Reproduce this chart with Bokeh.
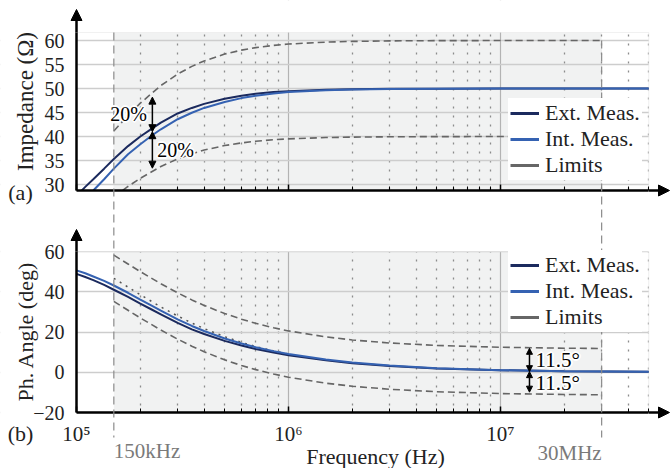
import math
from bokeh.plotting import figure
from bokeh.models import (Range1d, FixedTicker, BoxAnnotation, Arrow, NormalHead,
                          Label, Legend, LegendItem, LinearAxis, LogAxis, LogScale, Grid)
from bokeh.embed import file_html
from bokeh.resources import INLINE

# ---------------- data ----------------
freq = [1.0e5, 1.1e5, 1.2e5, 1.35e5, 1.5e5, 1.75e5, 2.0e5, 2.25e5, 2.5e5, 3.0e5,
        3.5e5, 4.0e5, 5.0e5, 6.0e5, 7.0e5, 8.5e5, 1.0e6, 1.5e6, 2.0e6, 3.0e6,
        5.0e6, 1.0e7, 2.0e7, 5.0e7]
z_ext = [27.6, 29.5, 31.1, 33.3, 35.3, 38.0, 40.0, 41.55, 42.9, 44.8,
         45.95, 46.8, 47.85, 48.5, 48.9, 49.25, 49.45, 49.74, 49.85, 49.93,
         49.97, 49.99, 50.0, 50.0]
z_int = [25.3, 27.1, 28.75, 31.1, 33.3, 36.3, 38.4, 40.1, 41.5, 43.6,
         44.95, 45.95, 47.2, 48.0, 48.5, 48.95, 49.25, 49.66, 49.8, 49.91,
         49.97, 49.99, 50.0, 50.0]
ph_ext = [48.9, 47.3, 45.8, 43.4, 41.0, 37.4, 34.1, 31.3, 28.8, 24.5,
          21.3, 19.0, 15.6, 13.3, 11.6, 9.8, 8.5, 5.9, 4.5, 3.1,
          1.9, 1.0, 0.5, 0.23]
ph_int = [50.6, 49.2, 47.6, 45.4, 43.1, 39.5, 36.1, 33.2, 30.6, 26.3,
          23.0, 20.5, 16.8, 14.3, 12.4, 10.5, 9.1, 6.3, 4.8, 3.3,
          2.0, 1.05, 0.55, 0.25]

lim_freq = [1.5e5, 1.75e5, 2e5, 2.5e5, 3e5, 3.5e5, 4e5, 5e5, 6e5, 7e5, 8.5e5,
            1e6, 1.5e6, 2e6, 3e6, 5e6, 1e7, 2e7, 3e7]
z_upper = [41.15, 44.39, 46.94, 50.62, 53.0, 54.61, 55.75, 57.17, 58.0, 58.51,
           58.98, 59.26, 59.66, 59.81, 59.92, 59.97, 59.99, 60.0, 60.0]
z_lower = [27.43, 29.59, 31.30, 33.74, 35.34, 36.41, 37.17, 38.11, 38.67, 39.01,
           39.32, 39.50, 39.78, 39.87, 39.94, 39.98, 39.99, 40.0, 40.0]
ph_upper = [58.2, 53.79, 50.0, 43.98, 39.45, 35.95, 33.2, 29.16, 26.36, 24.31,
            22.11, 20.54, 17.56, 16.05, 14.54, 13.32, 12.41, 11.96, 11.8]
ph_lower = [35.2, 30.79, 27.0, 20.98, 16.45, 12.95, 10.2, 6.16, 3.36, 1.31,
            -0.89, -2.46, -5.44, -6.95, -8.46, -9.68, -10.59, -11.04, -11.2]
nom_freq = [1.5e5, 1.75e5, 2e5, 2.5e5, 3e5, 3.5e5, 4e5, 5e5, 6e5, 7e5, 8.5e5, 1e6]
ph_nominal = [46.7, 42.29, 38.5, 32.48, 27.95, 24.45, 21.7, 17.66, 14.86, 12.81,
              10.61, 9.04]

F_LOW, F_HIGH = 1.5e5, 3.0e7
x_major = [1e5, 1e6, 1e7]
x_minor = [2e5, 3e5, 4e5, 5e5, 6e5, 7e5, 8e5, 9e5,
           2e6, 3e6, 4e6, 5e6, 6e6, 7e6, 8e6, 9e6,
           2e7, 3e7, 4e7, 5e7]
x_labels = {1e5: "10\u2075", 1e6: "10\u2076", 1e7: "10\u2077"}
x_blank = {1e5: " ", 1e6: " ", 1e7: " "}
z_ticks = [30, 35, 40, 45, 50, 55, 60]
ph_ticks = [-20, 0, 20, 40, 60]

# annotation data
z_arrow_f, z_arrow_vals = 2.28e5, [48.2, 41.0, 33.4]
ph_arrow_f, ph_arrow_vals = 1.37e7, [11.9, 0.3, -9.9]

# ---------------- layout (pixels of the 670x468 canvas) ----------------
W, H = 670, 468
X0PX, DEC = 76.0, 212.0           # x pixel of 1e5, pixels per decade
Z60PX, ZPX = 40.0, 4.8            # y pixel of 60 Ohm, pixels per Ohm
PH60PX, PHPX = 251.0, 161.0 / 80  # y pixel of 60 deg, pixels per degree


def f_at(px):
    return 1e5 * 10 ** ((px - X0PX) / DEC)


def z_at(py):
    return 60 + (Z60PX - py) / ZPX


def ph_at(py):
    return 60 + (PH60PX - py) / PHPX


X_PANEL = (1e5, 5e7)
Z_PANEL = (z_at(190), z_at(32))
PH_PANEL = (-20, 60)

FONT = "Liberation Serif"
C_TXT = "#222222"
C_EXT = "#1b2a5e"
C_INT = "#3562b2"
C_LIM = "#666666"
C_BAND = "#d5d6d8"
C_REGION = "#f1f2f2"

p = figure(width=W, height=H, x_axis_type=None, y_axis_type=None,
           x_range=Range1d(f_at(0), f_at(W)), y_range=Range1d(ph_at(H), ph_at(0)),
           output_backend="svg", toolbar_location=None,
           min_border=0, min_border_left=0, min_border_right=0,
           min_border_top=0, min_border_bottom=0)
p.x_scale = LogScale()
p.extra_y_ranges = {"z": Range1d(z_at(H), z_at(0))}
p.outline_line_color = None
p.background_fill_color = "white"
p.border_fill_color = "white"

# ---- light region between 150 kHz and 30 MHz (both panels) ----
p.add_layout(BoxAnnotation(left=F_LOW, right=F_HIGH, bottom=Z_PANEL[0], top=Z_PANEL[1],
                           y_range_name="z", fill_color=C_REGION, fill_alpha=1,
                           line_alpha=0, level="image"))
p.add_layout(BoxAnnotation(left=F_LOW, right=F_HIGH, bottom=PH_PANEL[0], top=PH_PANEL[1],
                           fill_color=C_REGION, fill_alpha=1, line_alpha=0, level="image"))

# ---- limit bands ----
p.varea(x=lim_freq, y1=z_lower, y2=z_upper, fill_color=C_BAND, level="image",
        y_range_name="z")
p.varea(x=lim_freq, y1=ph_lower, y2=ph_upper, fill_color=C_BAND, level="image")

# ---- grids ----
xt = FixedTicker(ticks=[1e6, 1e7], minor_ticks=x_minor)
vg = Grid(dimension=0, ticker=xt, grid_line_color="#b3b3b3", grid_line_width=1.2,
          minor_grid_line_color="#8c8c8c", minor_grid_line_dash="2 7",
          minor_grid_line_width=1.3)
hz = Grid(dimension=1, ticker=FixedTicker(ticks=z_ticks), y_range_name="z",
          grid_line_color="#cdcdcd", grid_line_width=1.3)
hp = Grid(dimension=1, ticker=FixedTicker(ticks=ph_ticks),
          grid_line_color="#cdcdcd", grid_line_width=1.3)
for g in (vg, hz, hp):
    p.add_layout(g)

# ---- white masks outside the two panels ----
mask = dict(fill_color="white", fill_alpha=1, line_alpha=0, level="underlay")
p.add_layout(BoxAnnotation(right=X_PANEL[0], **mask))
p.add_layout(BoxAnnotation(left=X_PANEL[1], **mask))
p.add_layout(BoxAnnotation(bottom=Z_PANEL[1], y_range_name="z", **mask))
p.add_layout(BoxAnnotation(top=ph_at(190), bottom=PH_PANEL[1], **mask))
p.add_layout(BoxAnnotation(top=PH_PANEL[0], **mask))
# panel outlines
for kw in (dict(bottom=Z_PANEL[0], top=Z_PANEL[1], y_range_name="z"),
           dict(bottom=PH_PANEL[0], top=PH_PANEL[1])):
    p.add_layout(BoxAnnotation(left=X_PANEL[0], right=X_PANEL[1], fill_alpha=0,
                               line_color="#cfcfcf", line_width=1.2, level="underlay", **kw))

# ---- top panel glyphs ----
p.line(lim_freq, z_upper, line_color=C_LIM, line_width=1.6, line_dash="7 4", y_range_name="z")
p.line(lim_freq, z_lower, line_color=C_LIM, line_width=1.6, line_dash="7 4", y_range_name="z")
p.line(freq, z_ext, line_color=C_EXT, line_width=2, y_range_name="z")
p.line(freq, z_int, line_color=C_INT, line_width=2, y_range_name="z")
# clip what falls below the impedance axis
p.quad(left=[f_at(0)], right=[f_at(W)], top=[Z_PANEL[0]], bottom=[z_at(250)],
       y_range_name="z", fill_color="white", line_alpha=0)

# ---- bottom panel glyphs ----
p.line(lim_freq, ph_upper, line_color=C_LIM, line_width=1.6, line_dash="7 4")
p.line(lim_freq, ph_lower, line_color=C_LIM, line_width=1.6, line_dash="7 4")
p.line(nom_freq, ph_nominal, line_color="#555555", line_width=1.5, line_dash="2 5")
p.line(freq, ph_ext, line_color=C_EXT, line_width=2)
p.line(freq, ph_int, line_color=C_INT, line_width=2)


# ---- axes (fixed inside the canvas) ----
def y_axis(ticks, rng_name, bounds):
    kw = dict(y_range_name=rng_name) if rng_name else {}
    ax = LinearAxis(fixed_location=X_PANEL[0], bounds=bounds,
                    ticker=FixedTicker(ticks=ticks), **kw)
    ax.axis_line_width = 2.5
    ax.axis_line_color = "black"
    ax.major_tick_line_color = None
    ax.minor_tick_line_color = None
    ax.major_label_text_font = FONT
    ax.major_label_text_font_size = "20px"
    ax.major_label_text_color = C_TXT
    ax.major_label_standoff = 6
    p.add_layout(ax, "left")


def x_axis(rng_name, loc, labels):
    kw = dict(y_range_name=rng_name) if rng_name else {}
    ax = LogAxis(fixed_location=loc, bounds=X_PANEL,
                 ticker=FixedTicker(ticks=x_major, minor_ticks=x_minor), **kw)
    ax.axis_line_width = 2.5
    ax.axis_line_color = "black"
    ax.major_tick_in = 6
    ax.major_tick_out = 0
    ax.minor_tick_in = 4
    ax.minor_tick_out = 0
    ax.major_tick_line_color = "black"
    ax.minor_tick_line_color = "black"
    ax.major_tick_line_width = 1.5
    ax.major_label_text_font = FONT
    ax.major_label_text_font_size = "21px"
    ax.major_label_text_color = C_TXT
    ax.major_label_overrides = labels
    ax.major_label_standoff = 9
    p.add_layout(ax, "below")


y_axis(z_ticks, "z", Z_PANEL)
y_axis(ph_ticks, None, PH_PANEL)
x_axis("z", Z_PANEL[0], x_blank)
x_axis(None, PH_PANEL[0], x_labels)

# axis arrows
head = dict(size=11, fill_color="black", line_color="black")
p.add_layout(Arrow(end=NormalHead(**head), x_start=X_PANEL[0], y_start=Z_PANEL[1],
                   x_end=X_PANEL[0], y_end=z_at(9), y_range_name="z",
                   line_width=2.5, line_color="black"))
p.add_layout(Arrow(end=NormalHead(**head), x_start=X_PANEL[1], y_start=Z_PANEL[0],
                   x_end=f_at(669), y_end=Z_PANEL[0], y_range_name="z",
                   line_width=2.5, line_color="black"))
p.add_layout(Arrow(end=NormalHead(**head), x_start=X_PANEL[0], y_start=PH_PANEL[1],
                   x_end=X_PANEL[0], y_end=ph_at(229),
                   line_width=2.5, line_color="black"))
p.add_layout(Arrow(end=NormalHead(**head), x_start=X_PANEL[1], y_start=PH_PANEL[0],
                   x_end=f_at(669), y_end=PH_PANEL[0],
                   line_width=2.5, line_color="black"))

# long dashed verticals at 150 kHz and 30 MHz
p.add_layout(Arrow(end=None, x_start=F_LOW, y_start=ph_at(32), x_end=F_LOW, y_end=ph_at(437),
                   line_color="#8a8a8a", line_width=1.2, line_dash="8 5"))
p.add_layout(Arrow(end=None, x_start=F_HIGH, y_start=ph_at(40), x_end=F_HIGH, y_end=ph_at(437),
                   line_color="#8a8a8a", line_width=1.2, line_dash="8 5"))


def halo_label(x, y, text, size, align="center", rng=None):
    kw = dict(y_range_name=rng) if rng else {}
    for dx, dy in [(-1, 0), (1, 0), (0, -1), (0, 1), (-1, -1), (1, 1), (-1, 1), (1, -1),
                   (-2, 0), (2, 0), (0, 2), (0, -2)]:
        p.add_layout(Label(x=x, y=y, text=text, x_offset=dx, y_offset=dy,
                           text_font=FONT, text_font_size=size, text_color="white",
                           text_align=align, text_baseline="middle", **kw))
    p.add_layout(Label(x=x, y=y, text=text, text_font=FONT, text_font_size=size,
                       text_color="black", text_align=align, text_baseline="middle", **kw))


def dbl_arrow(f, a, b, size, rng=None):
    kw = dict(y_range_name=rng) if rng else {}
    h = dict(size=size, fill_color="black", line_color="black")
    p.add_layout(Arrow(start=NormalHead(**h), end=NormalHead(**h),
                       x_start=f, y_start=a, x_end=f, y_end=b,
                       line_width=1.5, line_color="black", **kw))


def text(x, y, s, size, align="center", color=C_TXT, rng=None, angle=0.0):
    kw = dict(y_range_name=rng) if rng else {}
    p.add_layout(Label(x=x, y=y, text=s, text_font=FONT, text_font_size=size,
                       text_color=color, text_align=align, text_baseline="middle",
                       angle=angle, **kw))


# 20 % and 11.5 deg annotations
dbl_arrow(z_arrow_f, z_arrow_vals[1], z_arrow_vals[0], 7, "z")
dbl_arrow(z_arrow_f, z_arrow_vals[1], z_arrow_vals[2], 7, "z")
halo_label(f_at(128), z_at(113), "20%", "20px", rng="z")
halo_label(f_at(175), z_at(149), "20%", "20px", rng="z")
dbl_arrow(ph_arrow_f, ph_arrow_vals[1], ph_arrow_vals[0], 6)
dbl_arrow(ph_arrow_f, ph_arrow_vals[1], ph_arrow_vals[2], 6)
halo_label(f_at(535), ph_at(359), "11.5\u00b0", "21px", align="left")
halo_label(f_at(535), ph_at(382), "11.5\u00b0", "21px", align="left")

# outer texts
text(f_at(25), z_at(101), "Impedance (\u03a9)", "23px", rng="z", angle=math.pi / 2)
text(f_at(25), ph_at(331), "Ph. Angle (deg)", "22px", angle=math.pi / 2)
text(f_at(20), z_at(192), "(a)", "22px", rng="z")
text(f_at(20), ph_at(433), "(b)", "22px")
text(F_LOW, ph_at(450), "150kHz", "21px", align="left", color="#7a7a7a")
text(F_HIGH, ph_at(452), "30MHz", "21px", align="right", color="#7a7a7a")
text(f_at(375), ph_at(456), "Frequency (Hz)", "22px")


# ---- legends ----
def add_legend(rng, y0, loc):
    kw = dict(y_range_name=rng) if rng else {}
    r1 = p.line([X_PANEL[1]], [y0], line_color=C_EXT, line_width=3, **kw)
    r2 = p.line([X_PANEL[1]], [y0], line_color=C_INT, line_width=3, **kw)
    r3 = p.line([X_PANEL[1]], [y0], line_color=C_LIM, line_width=3, **kw)
    leg = Legend(items=[LegendItem(label="Ext. Meas.", renderers=[r1]),
                        LegendItem(label="Int. Meas.", renderers=[r2]),
                        LegendItem(label="Limits", renderers=[r3])],
                 location=loc)
    leg.background_fill_color = "white"
    leg.background_fill_alpha = 1
    leg.border_line_alpha = 0
    leg.padding = 2
    leg.spacing = 0
    leg.margin = 0
    leg.glyph_width = 29
    leg.glyph_height = 22
    leg.label_height = 22
    leg.label_standoff = 6
    leg.label_text_font = FONT
    leg.label_text_font_size = "22px"
    leg.label_text_color = C_TXT
    p.add_layout(leg, "center")


add_legend("z", 50, (508, H - 180))
add_legend(None, 0, (508, H - 332))

open("out.html", "w").write(file_html(p, INLINE))
